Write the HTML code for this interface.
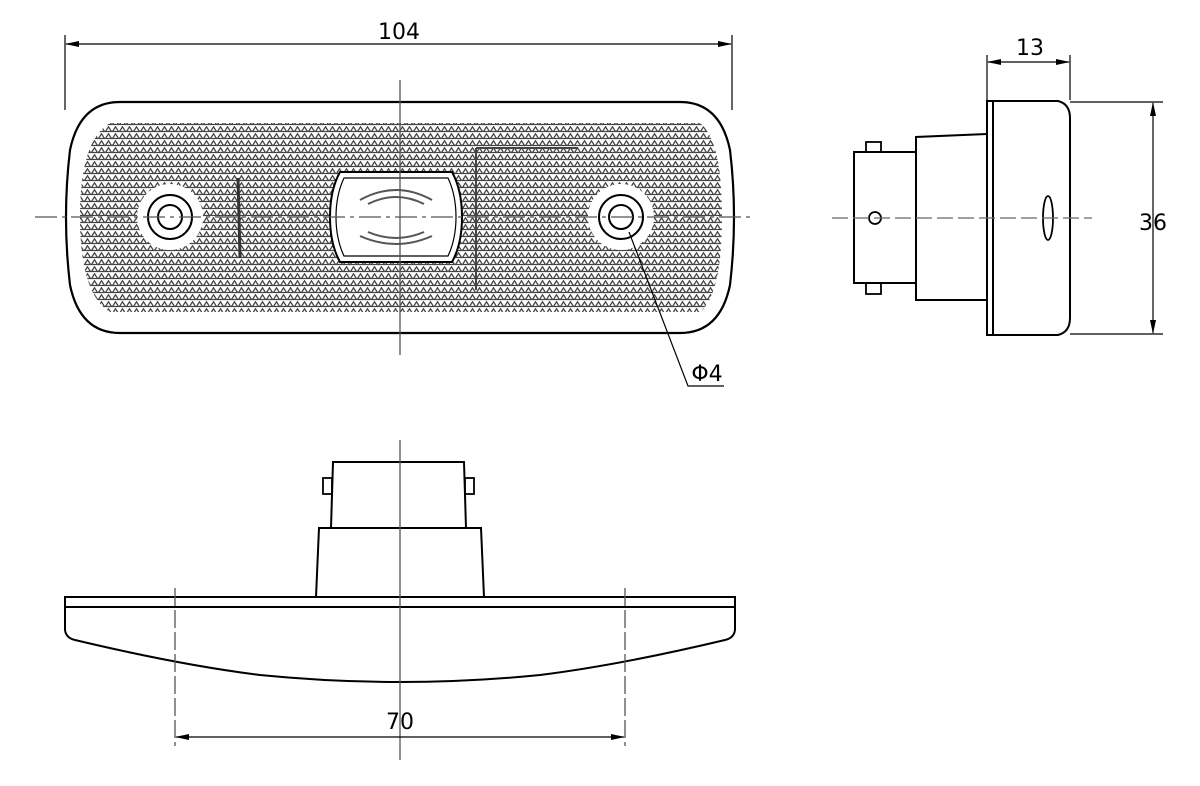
<!DOCTYPE html>
<html><head><meta charset="utf-8"><style>html,body{margin:0;padding:0;background:#fff}svg{display:block}</style></head>
<body>
<svg width="1200" height="786" viewBox="0 0 1200 786" xmlns="http://www.w3.org/2000/svg" font-family="'DejaVu Sans', 'Liberation Sans', sans-serif">
<defs>
<pattern id="dots" width="7" height="7" patternUnits="userSpaceOnUse">
<rect width="7" height="7" fill="#fff"/>
<path d="M0.5 5.5 L3.5 0.8 L6.5 5.5 Z" fill="none" stroke="#444" stroke-width="1.3"/>
</pattern>
<marker id="ar" markerWidth="14" markerHeight="8" refX="13" refY="4" orient="auto" markerUnits="userSpaceOnUse"><path d="M0 1 L14 4 L0 7 Z" fill="#000"/></marker>
<marker id="al" markerWidth="14" markerHeight="8" refX="1" refY="4" orient="auto" markerUnits="userSpaceOnUse"><path d="M14 1 L0 4 L14 7 Z" fill="#000"/></marker>
</defs>
<g stroke="#000" fill="none" stroke-width="2">
<!-- FRONT VIEW -->
<path d="M120 102 L680 102 Q720 102 730 150 Q738 217 730 285 Q720 333 680 333 L120 333 Q80 333 70 285 Q62 217 70 150 Q80 102 120 102 Z" stroke-width="2.2"/>
<path d="M110 123 L700 123 Q722 140 722 217 Q722 294 700 312 L110 312 Q80 294 80 217 Q80 140 110 123 Z" fill="url(#dots)" stroke="none"/>
<circle cx="170" cy="217" r="33" fill="#fff" stroke="none"/>
<circle cx="621" cy="217" r="33" fill="#fff" stroke="none"/>
<circle cx="170" cy="217" r="22"/><circle cx="170" cy="217" r="12"/>
<circle cx="621" cy="217" r="22"/><circle cx="621" cy="217" r="12"/>
<path d="M340 172 L452 172 Q462 190 462 217 Q462 244 452 262 L340 262 Q330 244 330 217 Q330 190 340 172 Z" fill="#fff"/>
<path d="M344 178 L448 178 Q456 195 456 217 Q456 239 448 256 L344 256 Q336 239 336 217 Q336 195 344 178 Z" stroke-width="1.2"/>
<path d="M360 200 Q396 180 432 200 M368 204 Q396 190 424 204 M360 236 Q396 252 432 236 M368 232 Q396 244 424 232" stroke="#555" stroke-width="2"/>
<path d="M238 178 L240 258" stroke-width="3" stroke="#333"/>
<path d="M476 148 L476 290 M476 148 L578 148" stroke="#444" stroke-width="2"/>
<!-- dims front -->
<line x1="65" y1="35" x2="65" y2="110" stroke-width="1.2"/>
<line x1="732" y1="35" x2="732" y2="110" stroke-width="1.2"/>
<line x1="66" y1="44" x2="731" y2="44" stroke-width="1.2" marker-start="url(#al)" marker-end="url(#ar)"/>
<path d="M629 232 L688 386 L724 386" stroke-width="1.2"/>
<!-- centerlines -->
<path d="M35 217 L755 217" stroke="#555" stroke-width="1.3" stroke-dasharray="22 5 4 5"/>
<path d="M400 80 L400 355" stroke="#555" stroke-width="1.3"/>
<!-- SIDE VIEW -->
<rect x="987" y="101" width="6" height="234" stroke-width="2"/>
<path d="M993 101 L1058 101 Q1070 104 1070 118 L1070 318 Q1070 332 1058 335 L993 335" stroke-width="2"/>
<path d="M987 134 L916 137 L916 300 L987 300" stroke-width="2"/>
<path d="M916 152 L854 152 L854 283 L916 283" stroke-width="2"/>
<rect x="866" y="142" width="15" height="10" stroke-width="1.8"/>
<rect x="866" y="283" width="15" height="11" stroke-width="1.8"/>
<circle cx="875" cy="218" r="6" stroke-width="1.8"/>
<ellipse cx="1048" cy="218" rx="5" ry="22" stroke-width="1.8"/>
<path d="M832 218 L1092 218" stroke="#666" stroke-width="1.3" stroke-dasharray="16 5"/>
<line x1="987" y1="55" x2="987" y2="100" stroke-width="1.2"/>
<line x1="1070" y1="55" x2="1070" y2="100" stroke-width="1.2"/>
<line x1="988" y1="62" x2="1069" y2="62" stroke-width="1.2" marker-start="url(#al)" marker-end="url(#ar)"/>
<line x1="1070" y1="102" x2="1163" y2="102" stroke-width="1.2"/>
<line x1="1070" y1="334" x2="1163" y2="334" stroke-width="1.2"/>
<line x1="1153" y1="103" x2="1153" y2="333" stroke-width="1.2" marker-start="url(#al)" marker-end="url(#ar)"/>
<!-- BOTTOM VIEW -->
<path d="M65 597 L735 597 L735 607 L65 607 Z" stroke-width="2"/>
<path d="M65 607 L65 630 Q66 638 75 640 Q180 665 260 675 Q330 682 400 682 Q470 682 540 675 Q620 665 725 640 Q734 638 735 630 L735 607" stroke-width="2"/>
<path d="M316 597 L319 528 L481 528 L484 597" stroke-width="2"/>
<path d="M331 528 L333 462 L464 462 L466 528" stroke-width="2"/>
<rect x="323" y="478" width="9" height="16" stroke-width="1.8"/>
<rect x="465" y="478" width="9" height="16" stroke-width="1.8"/>
<path d="M400 440 L400 760" stroke="#555" stroke-width="1.3"/>
<path d="M175 588 L175 746 M625 588 L625 746" stroke="#555" stroke-width="1.3" stroke-dasharray="18 4"/>
<line x1="176" y1="737" x2="624" y2="737" stroke-width="1.2" marker-start="url(#al)" marker-end="url(#ar)"/>
</g>
<g font-size="22" fill="#000" text-anchor="middle">
<text x="399" y="39">104</text>
<text x="1030" y="55">13</text>
<text x="1153" y="230">36</text>
<text x="400" y="729">70</text>
<text x="707" y="381">Φ4</text>
</g>
</svg>
</body></html>
